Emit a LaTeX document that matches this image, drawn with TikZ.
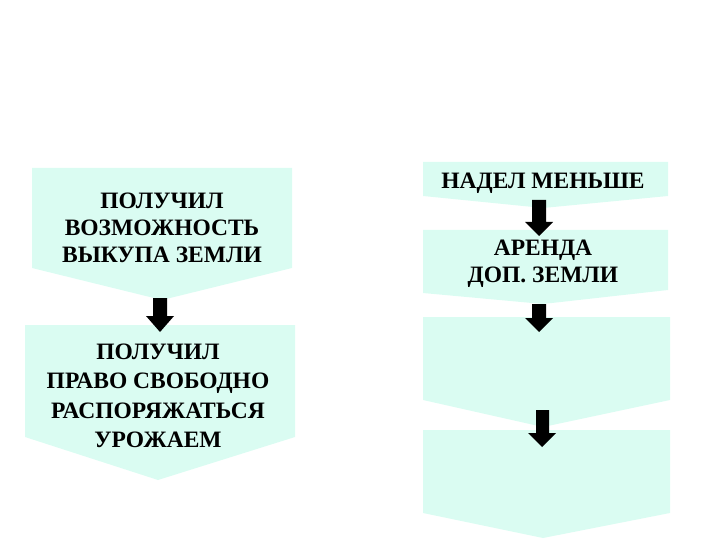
\documentclass[tikz,border=0pt]{standalone}
\usepackage{fontspec}
\setmainfont{Liberation Serif}
\begin{document}
\begin{tikzpicture}[x=1pt,y=-1pt]
\definecolor{boxfill}{RGB}{218,252,242}
\tikzset{chev/.style={fill=boxfill,draw=none},
 blk/.style={fill=black,draw=none},
 txt/.style={align=center,font=\fontsize{23.5}{27}\selectfont\bfseries,text=black,inner sep=0pt}}
\useasboundingbox (0,0) rectangle (720,540);
% left chevrons
\fill[chev] (32,168) -- (292,168) -- (292,268) -- (162,300) -- (32,268) -- cycle;
\fill[chev] (25,325) -- (295,325) -- (295,437) -- (158,480) -- (25,437) -- cycle;
% right chevrons
\fill[chev] (423,162) -- (668,162) -- (668,196) -- (543,208) -- (423,196) -- cycle;
\fill[chev] (423,230) -- (668,230) -- (668,290) -- (543,304) -- (423,293) -- cycle;
\fill[chev] (423,317) -- (670,317) -- (670,400) -- (543,427) -- (423,400) -- cycle;
\fill[chev] (423,430) -- (670,430) -- (670,513) -- (543,538) -- (423,513) -- cycle;
% block arrows
\fill[blk] (153,298) -- (167,298) -- (167,316) -- (174,316) -- (160,332) -- (146,316) -- (153,316) -- cycle;
\fill[blk] (532,200) -- (546,200) -- (546,222) -- (553,222) -- (539,236) -- (525,222) -- (532,222) -- cycle;
\fill[blk] (532,304) -- (546,304) -- (546,318) -- (553,318) -- (539,332) -- (525,318) -- (532,318) -- cycle;
\fill[blk] (536,410) -- (549,410) -- (549,433) -- (556,433) -- (542,447) -- (528,433) -- (536,433) -- cycle;
% texts
\node[txt] (t1) at (162,228) {ПОЛУЧИЛ\\ВОЗМОЖНОСТЬ\\ВЫКУПА ЗЕМЛИ};
\node[txt,font=\fontsize{23.5}{29.5}\selectfont\bfseries] (t2) at (158,396) {ПОЛУЧИЛ\\ПРАВО СВОБОДНО\\РАСПОРЯЖАТЬСЯ\\УРОЖАЕМ};
\node[txt] (t3) at (543,183) {НАДЕЛ МЕНЬШЕ};
\node[txt] (t4) at (543,264) {АРЕНДА\\ДОП. ЗЕМЛИ};
\end{tikzpicture}
\end{document}
